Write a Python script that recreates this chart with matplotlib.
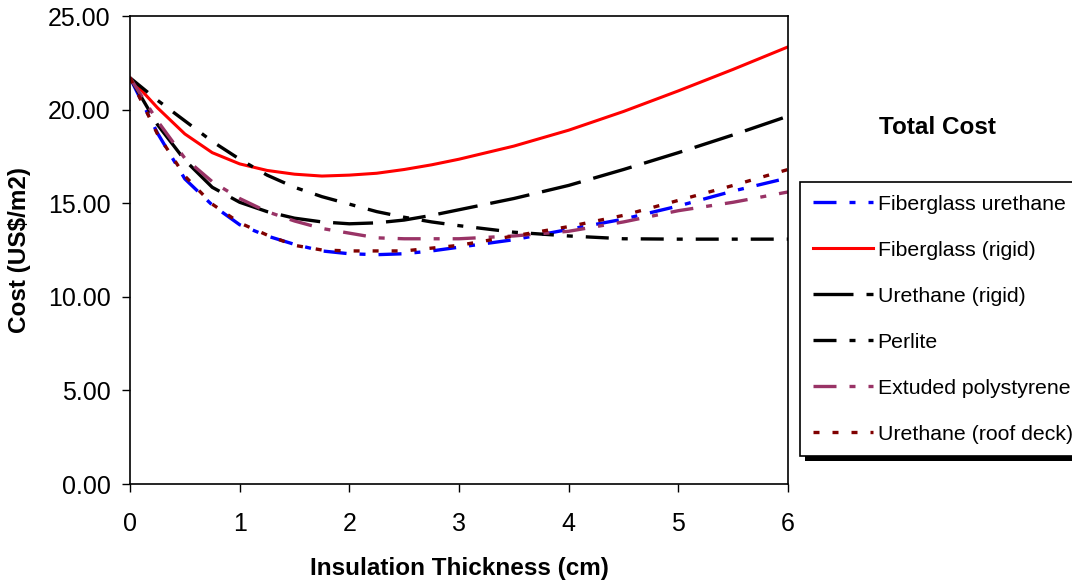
import matplotlib
matplotlib.use('Agg')
import matplotlib.pyplot as plt
from matplotlib.patches import Rectangle

plt.rcParams['font.family'] = ['Liberation Sans', 'DejaVu Sans']

# espesor del aislamiento (cm)
espesor = [0, 0.25, 0.5, 0.75, 1, 1.25, 1.5, 1.75, 2, 2.25, 2.5, 2.75, 3, 3.5, 4, 4.5, 5, 5.5, 6]

# coste total por material (US$/m2)
fibra_uretano = [21.7, 18.75, 16.3, 14.9, 13.85, 13.25, 12.8, 12.45, 12.3, 12.25, 12.3, 12.45, 12.65, 13.05, 13.6, 14.15, 14.85, 15.65, 16.35]
fibra_rigida = [21.7, 20.1, 18.7, 17.7, 17.1, 16.75, 16.55, 16.45, 16.5, 16.6, 16.8, 17.05, 17.35, 18.05, 18.9, 19.9, 21.0, 22.15, 23.35]
uretano_rigido = [21.7, 19.2, 17.3, 15.85, 15.05, 14.55, 14.2, 14.0, 13.9, 13.95, 14.1, 14.35, 14.65, 15.25, 15.95, 16.8, 17.7, 18.65, 19.65]
perlita = [21.7, 20.5, 19.4, 18.3, 17.35, 16.5, 15.85, 15.35, 14.95, 14.55, 14.25, 14.0, 13.8, 13.45, 13.25, 13.1, 13.08, 13.08, 13.08]
poliestireno = [21.7, 19.4, 17.4, 16.15, 15.25, 14.55, 14.05, 13.65, 13.4, 13.15, 13.1, 13.1, 13.1, 13.25, 13.5, 14.0, 14.6, 15.05, 15.6]
uretano_techo = [21.7, 18.7, 16.45, 14.95, 13.95, 13.3, 12.75, 12.5, 12.45, 12.45, 12.45, 12.6, 12.75, 13.25, 13.75, 14.35, 15.15, 15.95, 16.8]

etiquetas = ['Fiberglass urethane', 'Fiberglass (rigid)', 'Urethane (rigid)',
             'Perlite', 'Extuded polystyrene', 'Urethane (roof deck)']

fig = plt.figure(figsize=(10.72, 5.83), dpi=100)
ax = fig.add_axes([130/1072, 1 - 484/583, (788-130)/1072, (484-16)/583])

dashdot = (0, (6.9, 3.9, 1.8, 3.9))
ax.plot(espesor, fibra_uretano, color='#0000ff', lw=2.4, linestyle=dashdot, label=etiquetas[0])
ax.plot(espesor, fibra_rigida, color='#ff0000', lw=2.2, linestyle='-', label=etiquetas[1])
ax.plot(espesor, uretano_rigido, color='black', lw=2.4, linestyle=(0, (12, 3.9)), label=etiquetas[2])
ax.plot(espesor, perlita, color='black', lw=2.4, linestyle=dashdot, label=etiquetas[3])
ax.plot(espesor, poliestireno, color='#993366', lw=2.4, linestyle=dashdot, label=etiquetas[4])
ax.plot(espesor, uretano_techo, color='#800000', lw=2.4, linestyle=(0, (1.8, 3.9)), label=etiquetas[5])

ax.set_xlim(0, 6)
ax.set_ylim(0, 25)
ax.set_xticks(range(0, 7))
ax.set_yticks([0, 5, 10, 15, 20, 25])
ax.set_yticklabels([f'{v:.2f}' for v in [0, 5, 10, 15, 20, 25]])
ax.tick_params(direction='out', length=5.5, width=1, labelsize=18)
ax.tick_params(axis='y', pad=8.5)
ax.tick_params(axis='x', pad=15)
for s in ax.spines.values():
    s.set_linewidth(1.2)

ax.set_xlabel('Insulation Thickness (cm)', fontsize=17.5, fontweight='bold', labelpad=15)
ax.set_ylabel('Cost (US$/m2)', fontsize=17.5, fontweight='bold', labelpad=12)

fig.text(937/1072, 1 - 127/583, 'Total Cost', fontsize=17.5, fontweight='bold', ha='center', va='center')

leg = fig.legend(loc='upper left', bbox_to_anchor=(800/1072, 1 - 182/583), bbox_transform=fig.transFigure,
                 fontsize=15.3, frameon=True, fancybox=False, edgecolor='black', facecolor='white',
                 framealpha=1, borderaxespad=0, borderpad=0.6, handlelength=2.85,
                 handletextpad=0.2, labelspacing=1.27)
leg.get_frame().set_linewidth(1.2)
leg.set_zorder(5)

fig.canvas.draw()
bb = leg.get_window_extent()
sombra = Rectangle((bb.x0 + 5, bb.y0 - 5), bb.width, bb.height, transform=None,
                   facecolor='black', edgecolor='none', zorder=4)
fig.add_artist(sombra)

fig.savefig('out.png', dpi=100)
